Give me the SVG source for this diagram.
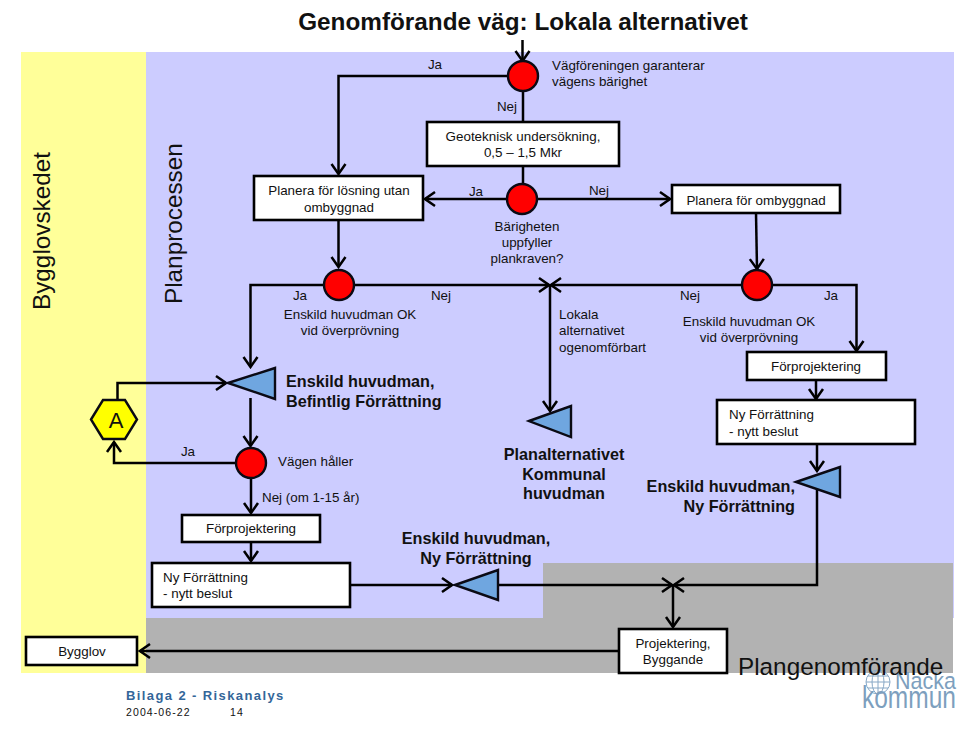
<svg xmlns="http://www.w3.org/2000/svg" width="960" height="734" viewBox="0 0 960 734">
<style>
text{font-family:"Liberation Sans",Arial,sans-serif;font-size:13.4px;fill:#111}
.m{text-anchor:middle}
.e{text-anchor:end}
.b{font-weight:bold;font-size:16.2px}
.box{fill:#fff;stroke:#000;stroke-width:2.6}
.tri{fill:#6FA6E0;stroke:#0a0a14;stroke-width:2.4}
.dec{fill:#f00;stroke:#0a0a14;stroke-width:2.4}
.c{fill:none;stroke:#000;stroke-width:2.5}
.a{marker-end:url(#arr)}
.v{font-size:24.3px;fill:#111}
.logo{fill:#7d9fbe}
.g{fill:none;stroke:#88a8c6;stroke-width:1}
</style>
<defs>
<marker id="arr" markerUnits="userSpaceOnUse" markerWidth="14" markerHeight="18" refX="12" refY="9" orient="auto" viewBox="0 0 14 18">
<path d="M2 2 L12 9 L2 16" fill="none" stroke="#000" stroke-width="2.5"/>
</marker>
</defs>
<rect width="960" height="734" fill="#fff"/>
<rect x="21" y="52" width="125" height="621" fill="#FFFF99"/>
<rect x="146" y="52" width="808" height="566" fill="#CCCCFF"/>
<path d="M146 618H543V563H953V673H146Z" fill="#B2B2B2"/>

<g id="logo">
<circle class="g" cx="878" cy="682" r="12"/><ellipse class="g" cx="878" cy="682" rx="6" ry="12"/><path class="g" d="M866 682H890M868 676H888M868 688H888M878 670V694"/>
<text class="logo" transform="translate(895,689) scale(1,1.1)" style="font-size:21.500px">Nacka</text>
<text class="logo" transform="translate(862,708) scale(1,1.25)" style="font-size:24.500px">kommun</text>
</g>

<text x="523" y="30" class="m" style="font-size:24.3px;font-weight:bold" id="title">Genomförande väg: Lokala alternativet</text>

<g id="phases">
<text transform="translate(50,310) rotate(-90)" class="v">Bygglovskedet</text>
<text transform="translate(182,304) rotate(-90)" class="v">Planprocessen</text>
<text x="738" y="675" class="v">Plangenomförande</text>
</g>

<g id="connectors">
<path class="c a" d="M522.500 40V61"/>
<path class="c a" d="M508 76H338.500V174"/>
<path class="c" d="M523 91V122M523 166V184"/>
<path class="c a" d="M507 199H425"/>
<path class="c a" d="M537 199H670"/>
<path class="c a" d="M338.500 220V267"/>
<path class="c a" d="M324 285H250.500V367"/>
<path class="c a" d="M354 285H549"/>
<path class="c a" d="M742 285H551"/>
<path class="c a" d="M550 285V411"/>
<path class="c a" d="M756 213L757 269"/>
<path class="c a" d="M772 285H856.500V351"/>
<path class="c a" d="M816 380V399"/>
<path class="c a" d="M817 444V471"/>
<path class="c a" d="M117.500 400V383H226"/>
<path class="c a" d="M250.500 398V446"/>
<path class="c a" d="M236 463H114V442"/>
<path class="c a" d="M251 479V513"/>
<path class="c a" d="M251 543V561"/>
<path class="c a" d="M350 585H452"/>
<path class="c a" d="M498 585H672"/>
<path class="c a" d="M817 490V585H674"/>
<path class="c a" d="M673 585V627"/>
<path class="c a" d="M619 651H140"/>
</g>

<g id="d1"><circle class="dec" cx="523" cy="76" r="15"/><text x="435" y="69" class="m">Ja</text><text x="507" y="111" class="m">Nej</text><text x="552" y="70">Vägföreningen garanterar</text><text x="552" y="86">vägens bärighet</text></g>
<g id="geo"><rect class="box" x="427" y="122" width="192" height="44"/><text x="523" y="141" class="m">Geoteknisk undersökning,</text><text x="523" y="157" class="m">0,5 – 1,5 Mkr</text></g>
<g id="d2"><circle class="dec" cx="522" cy="199" r="15"/><text x="476" y="196" class="m">Ja</text><text x="599" y="195" class="m">Nej</text><text x="527" y="231" class="m">Bärigheten</text><text x="527" y="247" class="m">uppfyller</text><text x="527" y="263" class="m">plankraven?</text></g>
<g id="plan1"><rect class="box" x="254" y="176" width="169" height="44"/><text x="339" y="195" class="m">Planera för lösning utan</text><text x="339" y="212" class="m">ombyggnad</text></g>
<g id="plan2"><rect class="box" x="672" y="185" width="168" height="28"/><text x="756" y="205" class="m">Planera för ombyggnad</text></g>
<g id="d3"><circle class="dec" cx="339" cy="285" r="15"/><text x="300" y="300" class="m">Ja</text><text x="441" y="300" class="m">Nej</text><text x="350" y="319" class="m">Enskild huvudman OK</text><text x="350" y="335" class="m">vid överprövning</text></g>
<g id="d4"><circle class="dec" cx="757" cy="285" r="15"/><text x="690" y="300" class="m">Nej</text><text x="831" y="300" class="m">Ja</text><text x="749" y="326" class="m">Enskild huvudman OK</text><text x="749" y="342" class="m">vid överprövning</text></g>
<g id="lokala"><text x="559" y="319">Lokala</text><text x="559" y="335">alternativet</text><text x="559" y="352">ogenomförbart</text></g>
<g id="t1"><path class="tri" d="M228 383L275 368V399Z"/><text x="286" y="387" class="b">Enskild huvudman,</text><text x="286" y="407" class="b">Befintlig Förrättning</text></g>
<g id="hexA"><path d="M91 419.500L103 400H125L137 419.500L125 439H103Z" fill="#FFFF00" stroke="#0a0a14" stroke-width="2.4"/><text x="116" y="428" class="m" style="font-size:22px">A</text></g>
<g id="d5"><circle class="dec" cx="251" cy="463" r="15"/><text x="188" y="456" class="m">Ja</text><text x="278" y="466">Vägen håller</text><text x="262" y="502">Nej (om 1-15 år)</text></g>
<g id="forp1"><rect class="box" x="182" y="515" width="138" height="27"/><text x="251" y="533" class="m">Förprojektering</text></g>
<g id="ny1"><rect class="box" x="152" y="563" width="198" height="44"/><text x="163" y="582">Ny Förrättning</text><text x="163" y="598">- nytt beslut</text></g>
<g id="t2"><path class="tri" d="M455 585L498 570V600Z"/><text x="476" y="544" class="b m">Enskild huvudman,</text><text x="476" y="564" class="b m">Ny Förrättning</text></g>
<g id="t3"><path class="tri" d="M529 421L571 406V437Z"/><text x="564" y="460" class="b m">Planalternativet</text><text x="564" y="480" class="b m">Kommunal</text><text x="564" y="499" class="b m">huvudman</text></g>
<g id="forp2"><rect class="box" x="747" y="352" width="139" height="28"/><text x="816" y="371" class="m">Förprojektering</text></g>
<g id="ny2"><rect class="box" x="717" y="400" width="198" height="44"/><text x="729" y="419">Ny Förrättning</text><text x="729" y="436">- nytt beslut</text></g>
<g id="t4"><path class="tri" d="M796 482L840 467V497Z"/><text x="795" y="492" class="b e">Enskild huvudman,</text><text x="795" y="512" class="b e">Ny Förrättning</text></g>
<g id="proj"><rect class="box" x="619" y="629" width="108" height="44"/><text x="673" y="648" class="m">Projektering,</text><text x="673" y="664" class="m">Byggande</text></g>
<g id="bygg"><rect class="box" x="26" y="637" width="111" height="28"/><text x="82" y="656" class="m">Bygglov</text></g>
<g id="foot"><text x="126" y="700" style="font-size:13px;font-weight:bold;fill:#336699;letter-spacing:1.4px">Bilaga 2 - Riskanalys</text><text x="126" y="716" style="font-size:10.500px;letter-spacing:1.1px">2004-06-22</text><text x="230" y="716" style="font-size:10.500px;letter-spacing:1.1px">14</text></g>
</svg>
